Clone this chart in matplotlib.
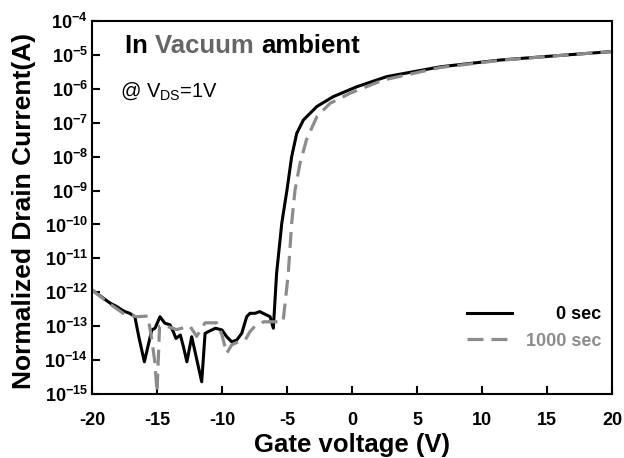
import numpy as np
import matplotlib
matplotlib.use("Agg")
import matplotlib.pyplot as plt
from matplotlib.ticker import FuncFormatter, NullLocator, MultipleLocator, LogLocator

plt.rcParams['font.family'] = ['Liberation Sans', 'DejaVu Sans']
plt.rcParams['mathtext.fontset'] = 'custom'
plt.rcParams['mathtext.rm'] = 'Liberation Sans'
plt.rcParams['mathtext.bf'] = 'Liberation Sans:bold'
plt.rcParams['axes.unicode_minus'] = False

# curva a 0 s (log10 de la corriente)
vg_0 = [-20, -18.6, -18.1, -17.7, -17.46, -17.1, -16.7, -16.4, -15.97, -15.4,
        -15.15, -14.77, -14.4, -14.0, -13.75, -13.54, -13.2, -12.97, -12.7, -12.33,
        -11.56, -11.3, -11.05, -10.5, -10.0, -9.64, -9.25, -8.87, -8.48, -8.1,
        -7.85, -7.46, -7.1, -6.3, -6.05, -5.8, -5.4, -5.0, -4.64, -4.25,
        -3.74, -2.7, -1.44, 0.36, 2.67, 6.8, 11.4, 16.5, 20]
log_id_0 = [-11.93, -12.32, -12.42, -12.52, -12.57, -12.62, -12.72, -13.31, -14.05, -13.11,
            -13.06, -12.72, -12.91, -12.96, -13.16, -13.36, -13.26, -13.6, -14.05, -13.31,
            -14.64, -13.21, -13.16, -13.06, -13.11, -13.31, -13.46, -13.41, -13.21, -12.72,
            -12.62, -12.62, -12.57, -12.72, -13.06, -11.44, -9.96, -8.98, -8.0, -7.31,
            -6.92, -6.52, -6.23, -5.94, -5.64, -5.35, -5.15, -5.0, -4.9]

# curva a 1000 s
vg_1000 = [-20, -18.6, -17.6, -16.56, -15.7, -15.4, -15.15, -15.0, -14.8, -14.26,
           -13.5, -12.46, -11.95, -11.3, -10.4, -10.0, -9.64, -9.25, -8.74, -8.2,
           -7.85, -7.46, -6.8, -5.3, -4.9, -4.64, -4.38, -4.0, -3.5, -2.7,
           -1.7, -0.15, 2.4, 6.8, 11.4, 16.5, 20]
log_id_1000 = [-11.93, -12.35, -12.62, -12.72, -12.7, -13.4, -14.1, -14.95, -13.0, -13.0,
               -13.1, -13.0, -13.3, -12.9, -12.9, -13.26, -13.8, -13.55, -13.46, -13.4,
               -13.16, -13.0, -12.87, -12.87, -11.44, -9.96, -8.98, -8.2, -7.5, -6.82,
               -6.43, -6.13, -5.74, -5.37, -5.16, -5.0, -4.9]

labels = ['\u2007\u2007\u20070 sec', '1000 sec']
gray = '#8c8c8c'

fig = plt.figure(figsize=(6.24, 4.58), dpi=100)
ax = fig.add_axes([0.1474, 0.1397, 0.8334, 0.8144])

ax.plot(vg_0, 10 ** np.array(log_id_0), color='black', lw=2.2, label=labels[0])
ax.plot(vg_1000, 10 ** np.array(log_id_1000), color=gray, lw=2.3,
        dashes=(5, 2.5), label=labels[1])

ax.set_yscale('log')
ax.set_xlim(-20, 20)
ax.set_ylim(1e-15, 1e-4)
ax.xaxis.set_major_locator(MultipleLocator(5))
ax.yaxis.set_major_locator(LogLocator(base=10, numticks=20))
ax.yaxis.set_minor_locator(NullLocator())
ax.yaxis.set_major_formatter(FuncFormatter(lambda v, p: r'$\mathbf{10^{%d}}$' % round(np.log10(v))))

for s in ax.spines.values():
    s.set_linewidth(1.5)
ax.tick_params(direction='in', length=6, width=1.5, top=False, right=False)
ax.tick_params(axis='x', pad=13, labelsize=13)
ax.tick_params(axis='y', pad=3, labelsize=13)
for t in ax.get_xticklabels():
    t.set_fontweight('bold')

ax.set_xlabel('Gate voltage (V)', fontsize=18.5, fontweight='bold')
ax.xaxis.set_label_coords(0.5, -0.105)
ax.set_ylabel('Normalized Drain Current(A)', fontsize=19, fontweight='bold', va='center')
ax.yaxis.set_label_coords(-0.13, 0.49)

# titulo con "Vacuum" en gris
t1 = ax.text(0.0635, 0.914, 'In ', transform=ax.transAxes, fontsize=18.5,
             fontweight='bold', va='baseline')
t2 = ax.annotate('Vacuum ', xy=(1, 0), xycoords=t1, fontsize=18.5,
                 fontweight='bold', color='#666666', va='bottom')
ax.annotate('ambient', xy=(1, 0), xycoords=t2, fontsize=18.5,
            fontweight='bold', va='bottom')

ax.text(0.054, 0.796, r'@ V$_{\mathrm{DS}}$=1V', transform=ax.transAxes,
        fontsize=14.5, va='baseline')

leg = ax.legend(loc='center right', bbox_to_anchor=(0.98, 0.177), frameon=False,
                handlelength=2.5, handletextpad=0.8, labelspacing=0.5,
                borderaxespad=0, borderpad=0, prop={'weight': 'bold', 'size': 13})
leg.get_texts()[1].set_color(gray)

fig.savefig('out.png', dpi=100)
